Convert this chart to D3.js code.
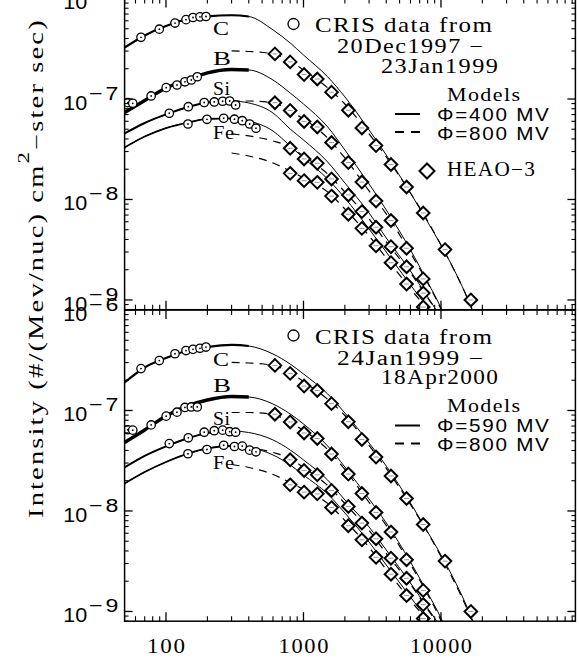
<!DOCTYPE html>
<html><head><meta charset="utf-8">
<script src="https://cdn.jsdelivr.net/npm/d3@7"></script>
<style>body{margin:0;background:#fff}svg{display:block}</style>
</head><body>
<svg id="chart" width="579" height="658"></svg>
<script>
// ---------------- DATA ----------------
const elements = ["C", "B", "Si", "Fe"];
const xMajorTicks = [100, 1000, 10000];
const xTickLabels = ["100", "1000", "10000"];
const yMajorTicks = [1e-9, 1e-8, 1e-7, 1e-6];
const yTickExponents = ["−9", "−8", "−7", "−6"];

// CRIS energies (MeV/nuc)
const crisE_C  = [65.8, 89.4, 116.3, 139.8, 157.2, 176.7, 195.4];
const crisE_B  = [52.7, 57.3, 78, 100.3, 120.2, 137.4, 152.8, 168.9];
const crisE_Si = [105.7, 145.3, 189.7, 224.5, 258.3, 290.4, 321];
const crisE_Fe = [144.5, 198.6, 262.8, 314.8, 358.7, 406, 451.4];

// CRIS intensities, 20Dec1997 - 23Jan1999
const cris1_C  = [4.11e-7, 4.95e-7, 5.70e-7, 6.16e-7, 6.47e-7, 6.57e-7, 6.62e-7];
const cris1_B  = [9.19e-8, 9.06e-8, 1.072e-7, 1.296e-7, 1.378e-7, 1.483e-7, 1.545e-7, 1.664e-7];
const cris1_Si = [7.21e-8, 8.38e-8, 9.23e-8, 9.34e-8, 9.49e-8, 9.55e-8, 8.71e-8];
const cris1_Fe = [5.64e-8, 6.28e-8, 6.43e-8, 6.29e-8, 6.08e-8, 5.64e-8, 5.12e-8];

// CRIS intensities, 24Jan1999 - 18Apr2000
const cris2_C  = [2.61e-7, 3.14e-7, 3.67e-7, 3.95e-7, 4.06e-7, 4.16e-7, 4.28e-7];
const cris2_B  = [6.43e-8, 6.37e-8, 7.18e-8, 8.78e-8, 9.62e-8, 1.072e-7, 1.084e-7, 1.084e-7];
const cris2_Si = [4.68e-8, 5.35e-8, 6.08e-8, 6.29e-8, 6.37e-8, 6.15e-8, 6.08e-8];
const cris2_Fe = [3.71e-8, 4.09e-8, 4.51e-8, 4.38e-8, 4.42e-8, 4.03e-8, 3.88e-8];

// HEAO-3 (same in both panels)
const heaoE_C  = [620, 800, 1010, 1260, 1600, 2120, 2660, 3370, 4330, 5620, 7430, 10700, 16500];
const heaoE_B  = [620, 800, 1010, 1260, 1600, 2120, 2660, 3370, 4330, 5620, 7430];
const heaoE_SiFe = [800, 1010, 1260, 1600, 2120, 2660, 3370, 4330, 5620, 7430];
const heao_C  = [2.81e-7, 2.34e-7, 1.75e-7, 1.58e-7, 1.17e-7, 7.73e-8, 5.15e-8, 3.44e-8, 2.23e-8, 1.33e-8, 7.34e-9, 3.17e-9, 1.0e-9];
const heao_B  = [9.18e-8, 7.69e-8, 5.97e-8, 5.26e-8, 3.69e-8, 2.33e-8, 1.49e-8, 9.66e-9, 6.18e-9, 3.27e-9, 1.62e-9];
const heao_Si = [3.23e-8, 2.53e-8, 2.29e-8, 1.60e-8, 1.11e-8, 7.57e-9, 5.29e-9, 3.39e-9, 2.14e-9, 1.17e-9];
const heao_Fe = [1.82e-8, 1.54e-8, 1.48e-8, 1.08e-8, 7.13e-9, 5.16e-9, 3.46e-9, 2.35e-9, 1.44e-9, 8.5e-10];

// Model curves
const modelE = [50, 70, 100, 150, 200, 300, 400, 600, 800, 1000, 1500, 2000, 3000, 4000, 6000, 8000, 10000, 15000, 20000];
// Phi = 400 MV
const m400_C  = [3.25e-7, 4.29e-7, 5.32e-7, 6.33e-7, 6.65e-7, 6.81e-7, 6.62e-7, 4.87e-7, 3.61e-7, 2.74e-7, 1.66e-7, 1.05e-7, 4.92e-8, 2.77e-8, 1.16e-8, 5.97e-9, 3.52e-9, 1.17e-9, 4.49e-10];
const m400_B  = [7.34e-8, 9.66e-8, 1.287e-7, 1.58e-7, 1.815e-7, 1.965e-7, 1.945e-7, 1.545e-7, 1.148e-7, 8.92e-8, 5.27e-8, 3.11e-8, 1.426e-8, 7.87e-9, 3.15e-9, 1.51e-9, 8.32e-10, 2.01e-10, 8e-11];
const m400_Si = [4.54e-8, 5.77e-8, 7.02e-8, 8.42e-8, 9.23e-8, 9.55e-8, 9.13e-8, 7.26e-8, 5.03e-8, 3.91e-8, 2.36e-8, 1.46e-8, 7.34e-9, 4.14e-9, 1.94e-9, 1.07e-9, 6.62e-10, 2.01e-10, 8e-11];
const m400_Fe = [3.29e-8, 4.23e-8, 5.14e-8, 5.9e-8, 6.33e-8, 6.4e-8, 6.04e-8, 4.8e-8, 3.41e-8, 2.59e-8, 1.6e-8, 1.035e-8, 5.08e-9, 3.0e-9, 1.41e-9, 8.32e-10, 5.02e-10, 1.6e-10, 6e-11];
// Phi = 590 MV
const m590_C  = [1.9e-7, 2.68e-7, 3.33e-7, 4.0e-7, 4.28e-7, 4.49e-7, 4.38e-7, 3.65e-7, 2.9e-7, 2.31e-7, 1.46e-7, 9.44e-8, 4.75e-8, 2.8e-8, 1.2e-8, 6.18e-9, 3.65e-9, 1.22e-9, 4.65e-10];
const m590_B  = [4.81e-8, 6.4e-8, 8.82e-8, 1.135e-7, 1.272e-7, 1.378e-7, 1.362e-7, 1.16e-7, 9.23e-8, 7.34e-8, 4.43e-8, 2.74e-8, 1.316e-8, 7.6e-9, 3.11e-9, 1.53e-9, 8.6e-10, 2.09e-10, 8e-11];
const m590_Si = [2.71e-8, 3.53e-8, 4.39e-8, 5.38e-8, 5.97e-8, 6.25e-8, 6.04e-8, 5.09e-8, 4.05e-8, 3.22e-8, 2.03e-8, 1.288e-8, 6.93e-9, 4.09e-9, 1.92e-9, 1.08e-9, 6.85e-10, 2.09e-10, 8e-11];
const m590_Fe = [1.877e-8, 2.44e-8, 3.07e-8, 3.78e-8, 4.19e-8, 4.43e-8, 4.29e-8, 3.61e-8, 2.87e-8, 2.28e-8, 1.475e-8, 9.55e-9, 4.91e-9, 2.9e-9, 1.39e-9, 8.22e-10, 5.2e-10, 1.6e-10, 6e-11];
// Phi = 800 MV
const dashE = [300, 400, 600, 800, 1000, 1500, 2000, 3000, 4000, 6000, 8000, 10000, 15000, 20000];
const m800_C  = [3.01e-7, 2.97e-7, 2.81e-7, 2.39e-7, 1.94e-7, 1.29e-7, 8.92e-8, 4.49e-8, 2.65e-8, 1.16e-8, 6.11e-9, 3.52e-9, 1.17e-9, 4.49e-10];
const m800_B  = [9.55e-8, 9.55e-8, 9.13e-8, 7.6e-8, 6.33e-8, 4.09e-8, 2.59e-8, 1.215e-8, 7.18e-9, 2.94e-9, 1.48e-9, 8.13e-10, 2.01e-10, 8e-11];
const m800_Si = [4.49e-8, 4.29e-8, 3.82e-8, 3.33e-8, 2.71e-8, 1.795e-8, 1.187e-8, 6.4e-9, 3.78e-9, 1.86e-9, 1.05e-9, 6.62e-10, 2.01e-10, 8e-11];
const m800_Fe = [2.9e-8, 2.71e-8, 2.31e-8, 1.92e-8, 1.64e-8, 1.19e-8, 8.04e-9, 4.34e-9, 2.62e-9, 1.29e-9, 7.95e-10, 5.02e-10, 1.6e-10, 6e-11];

// energy up to which the low-phi model is drawn heavy
const thickEnd = {C: 400, B: 400, Si: 320, Fe: 430};

// ---------------- DRAWING ----------------
const svg = d3.select("#chart");
const X0 = 124.6, X1 = 575.4;
const x = d3.scaleLog().domain([50, 95000]).range([X0, X1]);
const yDomain = [8e-10, 1e-6];

const panels = [
  { top: -1.5, bottom: 309.7,
    cris: {C: cris1_C, B: cris1_B, Si: cris1_Si, Fe: cris1_Fe},
    solid: {C: m400_C, B: m400_B, Si: m400_Si, Fe: m400_Fe},
    dates: ["20Dec1997 −", "23Jan1999"], phi: "Φ=400 MV", heaoLegend: true,
    labelY: {C: 35, B: 65, Si: 95, Fe: 138.5}, xLabels: false },
  { top: 310, bottom: 621.2,
    cris: {C: cris2_C, B: cris2_B, Si: cris2_Si, Fe: cris2_Fe},
    solid: {C: m590_C, B: m590_B, Si: m590_Si, Fe: m590_Fe},
    dates: ["24Jan1999 −", "18Apr2000"], phi: "Φ=590 MV", heaoLegend: false,
    labelY: {C: 365.5, B: 391.5, Si: 424.5, Fe: 468.5}, xLabels: true }
];
const heao = {C: [heaoE_C, heao_C], B: [heaoE_B, heao_B], Si: [heaoE_SiFe, heao_Si], Fe: [heaoE_SiFe, heao_Fe]};
const cris = {C: crisE_C, B: crisE_B, Si: crisE_Si, Fe: crisE_Fe};
const dashed = {C: m800_C, B: m800_B, Si: m800_Si, Fe: m800_Fe};
const thickW = {C: 2.2, B: 3.4, Si: 2.0, Fe: 1.8};
const labelW = {C: 16, B: 18, Si: 17, Fe: 21};

const SERIF = "'Liberation Serif','Times New Roman',serif";
const SANS = "'Liberation Sans',Arial,sans-serif";

// text whose visual width is stretched to `width` (start-anchored at tx,ty)
function wideText(parent, tx, ty, str, fam, size, ls, width, rot) {
  const g = parent.append("g").attr("transform", `translate(${tx},${ty})` + (rot ? ` rotate(${rot})` : ""));
  const t = g.append("text").attr("x", 0).attr("y", 0).attr("font-family", fam).attr("font-size", size)
    .attr("fill", "#000").style("letter-spacing", ls + "px");
  if (Array.isArray(str)) {
    str.forEach(s => { const sp = t.append("tspan").text(s.t); if (s.dy) sp.attr("dy", s.dy); if (s.fs) sp.attr("font-size", s.fs); });
  } else t.text(str);
  const L = t.node().getComputedTextLength() - ls;
  const k = width / L;
  t.attr("transform", (rot ? `translate(${-width / 2},0) ` : "") + `scale(${k},1)`);
  return t;
}

const defs = svg.append("defs");

panels.forEach((p, pi) => {
  const y = d3.scaleLog().domain(yDomain).range([p.bottom, p.top]);
  const clipId = "clip" + pi;
  defs.append("clipPath").attr("id", clipId).append("rect")
    .attr("x", X0).attr("y", p.top).attr("width", X1 - X0).attr("height", p.bottom - p.top);
  const g = svg.append("g");
  const plot = g.append("g").attr("clip-path", `url(#${clipId})`);

  const line = d3.line().x(d => x(d[0])).y(d => y(d[1])).curve(d3.curveMonotoneX);

  elements.forEach(el => {
    const sData = modelE.map((e, i) => [e, p.solid[el][i]]);
    plot.append("path").attr("d", line(sData)).attr("fill", "none")
      .attr("stroke", "#000").attr("stroke-width", 1);
    const hid = `thick${pi}${el}`;
    defs.append("clipPath").attr("id", hid).append("rect")
      .attr("x", X0).attr("y", p.top).attr("width", x(thickEnd[el]) - X0).attr("height", p.bottom - p.top);
    plot.append("g").attr("clip-path", `url(#${hid})`).append("path")
      .attr("d", line(sData)).attr("fill", "none").attr("stroke", "#000").attr("stroke-width", thickW[el]);
    const dData = dashE.map((e, i) => [e, dashed[el][i]]);
    plot.append("path").attr("d", line(dData)).attr("fill", "none")
      .attr("stroke", "#000").attr("stroke-width", 1.2).attr("stroke-dasharray", "8,6");
  });

  // HEAO-3 diamonds
  elements.forEach(el => {
    const [E, V] = heao[el];
    E.forEach((e, i) => {
      const cx = x(e), cy = y(V[i]), s = 6.3;
      plot.append("path").attr("d", `M${cx},${cy - s}L${cx + s},${cy}L${cx},${cy + s}L${cx - s},${cy}Z`)
        .attr("fill", "#fff").attr("stroke", "#000").attr("stroke-width", 2);
      plot.append("line").attr("x1", cx - 2.5).attr("x2", cx + 2.5).attr("y1", cy).attr("y2", cy)
        .attr("stroke", "#999").attr("stroke-width", 1);
    });
  });

  // CRIS circles
  elements.forEach(el => {
    cris[el].forEach((e, i) => {
      const cx = x(e), cy = y(p.cris[el][i]);
      plot.append("circle").attr("cx", cx).attr("cy", cy).attr("r", 4.2)
        .attr("fill", "#fff").attr("stroke", "#000").attr("stroke-width", 1.3);
      plot.append("circle").attr("cx", cx).attr("cy", cy).attr("r", 0.9).attr("fill", "#000");
    });
  });

  // element labels
  elements.forEach(el => wideText(g, 213, p.labelY[el], el, SERIF, 18.5, 0.5, labelW[el]));

  // axes frame
  g.append("rect").attr("x", X0).attr("y", p.top).attr("width", X1 - X0).attr("height", p.bottom - p.top)
    .attr("fill", "none").attr("stroke", "#000").attr("stroke-width", 1.5);

  // x ticks (bottom & top)
  const xMinor = [];
  [10, 100, 1000, 10000].forEach(d => { for (let k = 2; k <= 9; k++) { const v = k * d; if (v >= 50 && v <= 95000) xMinor.push(v); } });
  [[p.bottom, -1], [p.top, 1]].forEach(([yy, dir]) => {
    xMajorTicks.forEach(v => g.append("line").attr("x1", x(v)).attr("x2", x(v)).attr("y1", yy).attr("y2", yy + dir * 9)
      .attr("stroke", "#000").attr("stroke-width", 1.3));
    xMinor.forEach(v => g.append("line").attr("x1", x(v)).attr("x2", x(v)).attr("y1", yy).attr("y2", yy + dir * 5)
      .attr("stroke", "#000").attr("stroke-width", 1.1));
  });
  // y ticks (left & right)
  const yMinor = [];
  [1e-10, 1e-9, 1e-8, 1e-7].forEach(d => { for (let k = 2; k <= 9; k++) { const v = k * d; if (v >= 8e-10 && v <= 1e-6) yMinor.push(v); } });
  [[X0, 1], [X1, -1]].forEach(([xx, dir]) => {
    yMajorTicks.forEach(v => g.append("line").attr("x1", xx).attr("x2", xx + dir * 8).attr("y1", y(v)).attr("y2", y(v))
      .attr("stroke", "#000").attr("stroke-width", 1.3));
    yMinor.forEach(v => g.append("line").attr("x1", xx).attr("x2", xx + dir * 4).attr("y1", y(v)).attr("y2", y(v))
      .attr("stroke", "#000").attr("stroke-width", 1.1));
  });
  // y tick labels
  yMajorTicks.forEach((v, i) => {
    const yy = y(v);
    wideText(g, 63.3, yy + 10.7, "10", SANS, 21, 0, 24);
    wideText(g, 89, yy + 1, yTickExponents[i], SANS, 19, 2.5, 29.5);
  });
  // x tick labels
  if (p.xLabels) {
    const widths = [38, 50, 62];
    xMajorTicks.forEach((v, i) => wideText(g, x(v) - widths[i] / 2, 653, xTickLabels[i], SERIF, 20, 1.5, widths[i]));
  }

  // legend
  const o = p.top + 1.5;
  g.append("circle").attr("cx", 293.5).attr("cy", o + 24).attr("r", 5.5)
    .attr("fill", "none").attr("stroke", "#000").attr("stroke-width", 1.3);
  wideText(g, 315, o + 32, "CRIS data from", SERIF, 21, 1.2, 177);
  wideText(g, 337, o + 53, p.dates[0], SERIF, 20, 1.2, 146);
  wideText(g, 381, o + 72.5, p.dates[1], SERIF, 20, 1.2, 117);
  wideText(g, 447, o + 100.5, "Models", SERIF, 19, 1.2, 73);
  g.append("line").attr("x1", 395).attr("x2", 420).attr("y1", o + 114).attr("y2", o + 114)
    .attr("stroke", "#000").attr("stroke-width", 2);
  wideText(g, 437, o + 120.5, p.phi, SANS, 18, 1.5, 112);
  g.append("line").attr("x1", 395).attr("x2", 420).attr("y1", o + 132).attr("y2", o + 132)
    .attr("stroke", "#000").attr("stroke-width", 2).attr("stroke-dasharray", "9,7");
  wideText(g, 437, o + 139.5, "Φ=800 MV", SANS, 18, 1.5, 112);
  if (p.heaoLegend) {
    const cx = 427, cy = o + 171, s = 7.5;
    g.append("path").attr("d", `M${cx},${cy - s}L${cx + s},${cy}L${cx},${cy + s}L${cx - s},${cy}Z`)
      .attr("fill", "none").attr("stroke", "#000").attr("stroke-width", 2);
    wideText(g, 447, o + 176, "HEAO−3", SERIF, 20, 1.2, 88);
  }
});

// y-axis title
wideText(svg, 43, 269, [
  {t: "Intensity (#/(Mev/nuc) cm"},
  {t: "2", dy: -14, fs: 16},
  {t: "−ster sec)", dy: 14}
], SERIF, 20, 1.5, 498, -90);
</script>
</body></html>
